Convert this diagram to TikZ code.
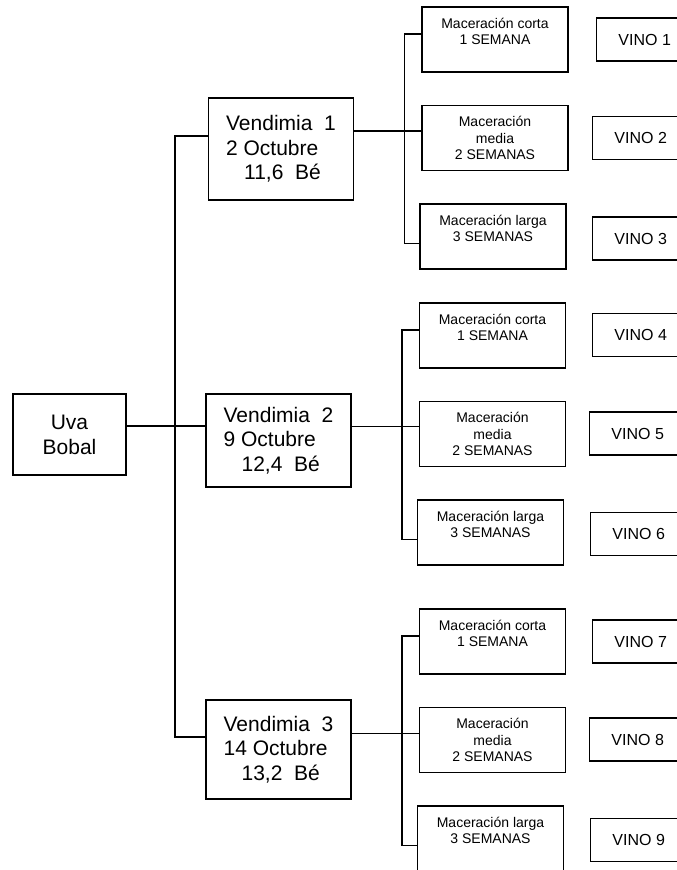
\documentclass[tikz,border=0pt]{standalone}
\usepackage{fontspec}
\setmainfont{Liberation Sans}

\newcommand{\macstep}{98.5}

\begin{document}
\begin{tikzpicture}[x=1pt,y=1pt,line width=1.4pt,
	box/.style={draw,inner sep=0pt,align=center},
	vend/.style={box,minimum width=145pt,align=left,font=\fontsize{21}{24.5}\selectfont},
	mac/.style={box,minimum width=146pt,minimum height=65pt,font=\fontsize{14}{16.5}\selectfont},
	vino/.style={box,anchor=west,minimum width=96pt,minimum height=43pt,font=\fontsize{16}{19}\selectfont}]
	\useasboundingbox (0,0) rectangle (677,-870);
	\clip (0,0) rectangle (677,-870);

	\node[box,minimum width=113pt,minimum height=81pt,font=\fontsize{21}{25}\selectfont] (uva) at (69.5,-434.5) {Uva\\Bobal};

	\node[vend,minimum height=102pt] (v1) at (281,-149) {Vendimia\ \ 1\\2 Octubre\\\hspace{18pt}11,6\ \ Bé};
	\node[vend,minimum height=93pt] (v2) at (278.5,-440.5) {Vendimia\ \ 2\\9 Octubre\\\hspace{18pt}12,4\ \ Bé};
	\node[vend,minimum height=99pt] (v3) at (278.5,-749.5) {Vendimia\ \ 3\\14 Octubre\\\hspace{18pt}13,2\ \ Bé};

	\foreach \g/\x/\y in {1/495/-39.5,2/492.5/-335.5,3/492.5/-641.5}{
		\node[mac] (c\g) at (\x,\y) {Maceración corta\\1 SEMANA\\~};
		\node[mac] (m\g) at (\x,\y-\macstep) {Maceración\\media\\2 SEMANAS};
		\node[mac] (l\g) at (\x-2,\y-2*\macstep) {Maceración larga\\3 SEMANAS\\~};
	}

	\foreach \n/\x/\y in {1/596/-39.5,2/592/-138,3/592/-238.5,4/592/-335,5/589/-433.5,6/590/-534,7/592/-641.5,8/589/-739.5,9/590/-840}
		\node[vino] (vino\n) at (\x,\y) {VINO \n};

	% ramas
	\draw ([yshift=8.5]uva.east) -- ([yshift=8.5]uva.east -| v2.west);
	\draw ([yshift=13]v1.west) -- ++(-33,0) |- ([yshift=12.5]v3.west);
	\foreach \g/\s in {1/7,2/7.5,3/6.5}{
		\draw ([yshift=\s]m\g.west) -- ([yshift=\s]m\g.west -| v\g.east);
		\draw ([yshift=5.5]c\g.west) -- ++(-17,0) |- ([yshift=-7]l\g.west);
	}
\end{tikzpicture}
\end{document}
